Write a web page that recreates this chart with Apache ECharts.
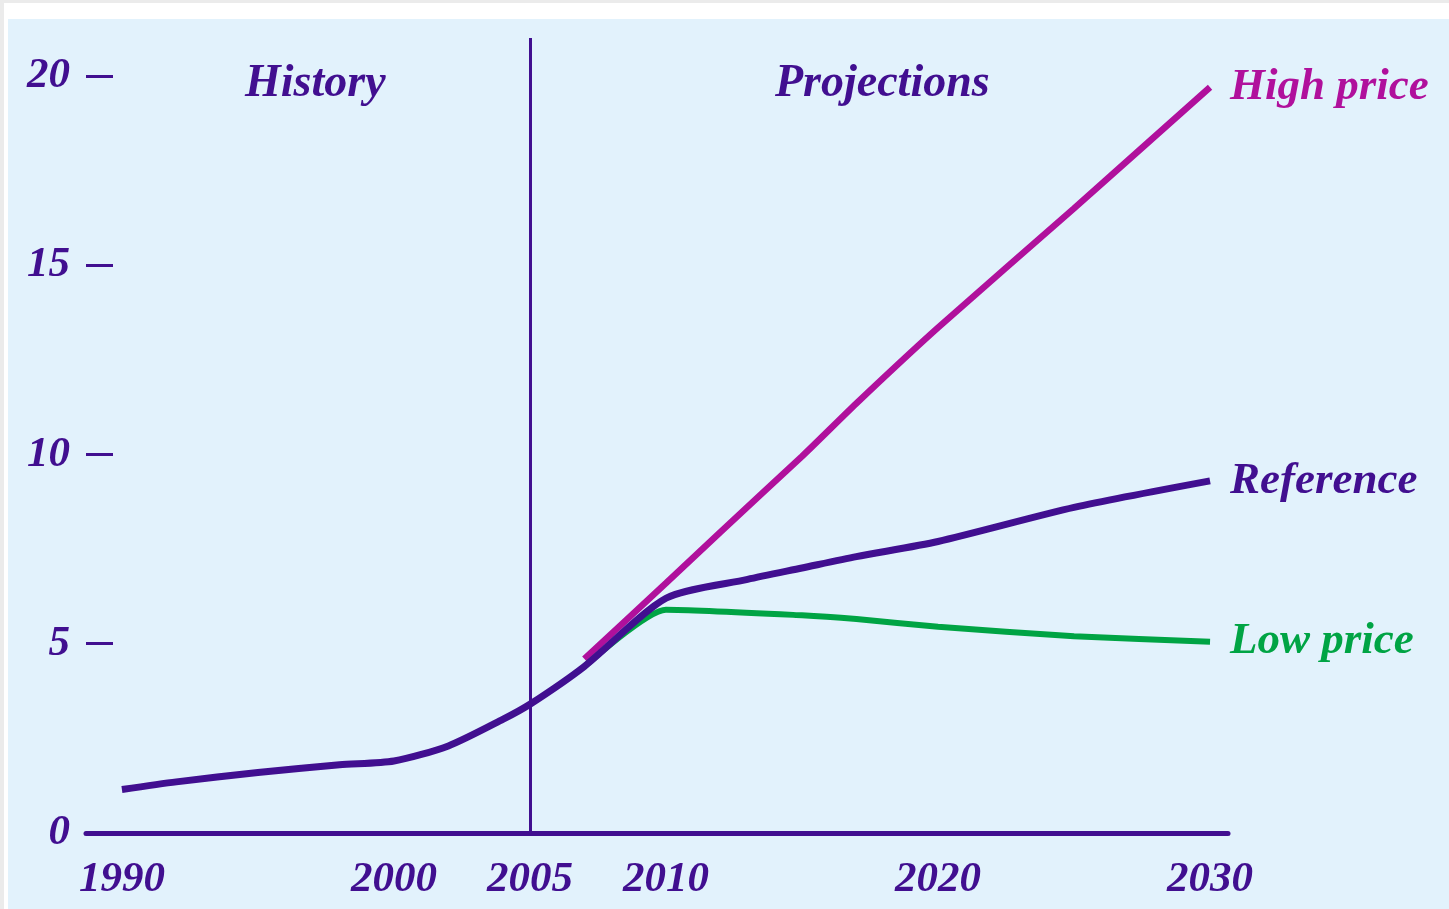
<!DOCTYPE html>
<html>
<head>
<meta charset="utf-8">
<script src="https://cdn.jsdelivr.net/npm/echarts@6/dist/echarts.min.js"></script>
<style>
html,body{margin:0;padding:0;background:#ffffff;}
#chart{width:1449px;height:909px;}
</style>
</head>
<body>
<div id="chart"></div>
<script>
// Data
var yearTicks = [1990, 2000, 2005, 2010, 2020, 2030];
var yTicks = [0, 5, 10, 15, 20];
var referenceYears = [1990, 1992, 1995, 1998, 2000, 2002, 2004, 2005, 2007, 2010, 2013, 2015, 2017, 2020, 2025, 2030];
var referenceValues = [1.15, 1.35, 1.6, 1.8, 1.9, 2.3, 3.0, 3.4, 4.4, 6.2, 6.7, 7.0, 7.3, 7.7, 8.6, 9.3];
var highYears = [2007, 2010, 2012, 2015, 2017, 2020, 2025, 2030];
var highValues = [4.6, 6.6, 7.95, 9.95, 11.35, 13.35, 16.5, 19.7];
var lowYears = [2007, 2010, 2015, 2017, 2020, 2025, 2030];
var lowValues = [4.4, 5.9, 5.75, 5.65, 5.45, 5.2, 5.05];
var seriesNames = ['High price', 'Low price', 'Reference'];
var periodLabels = ['History', 'Projections'];
var dividerYear = 2005;

var PURPLE = '#410f90';
var MAGENTA = '#b0109c';
var GREEN = '#00a444';
var FONT = 'Liberation Serif';

function pairs(xs, ys) { return xs.map(function (x, i) { return [x, ys[i]]; }); }

var chart = echarts.init(document.getElementById('chart'), null, {renderer: 'canvas'});

function endLabel(color) {
  return {
    show: true,
    formatter: '{a}',
    color: color,
    fontFamily: FONT,
    fontStyle: 'italic',
    fontWeight: 'bold',
    fontSize: 45,
    distance: 20
  };
}

var option = {
  animation: false,
  backgroundColor: '#ffffff',
  graphic: [
    {type: 'rect', shape: {x: 0, y: 0, width: 1449, height: 3}, style: {fill: '#ebebeb'}, z: -10},
    {type: 'rect', shape: {x: 0, y: 0, width: 4, height: 909}, style: {fill: '#ebebeb'}, z: -10},
    {type: 'rect', shape: {x: 8, y: 19, width: 1441, height: 890}, style: {fill: '#e2f2fc'}, z: -10},
    {type: 'text', left: 245, top: 61, z: 10,
     style: {text: periodLabels[0], fill: PURPLE, font: 'italic bold 46px "Liberation Serif"'}},
    {type: 'text', left: 775, top: 61, z: 10,
     style: {text: periodLabels[1], fill: PURPLE, font: 'italic bold 46px "Liberation Serif"'}}
  ],
  grid: {left: 86, right: 221, top: 38, bottom: 76, containLabel: false},
  xAxis: {
    type: 'value',
    min: 1988.68,
    max: 2030.66,
    splitLine: {show: false},
    axisLine: {show: true, lineStyle: {color: PURPLE, width: 5}},
    axisTick: {show: false},
    axisLabel: {
      customValues: yearTicks,
      formatter: function (v) { return String(v); },
      color: PURPLE,
      fontFamily: FONT,
      fontStyle: 'italic',
      fontWeight: 'bold',
      fontSize: 43,
      margin: 25
    }
  },
  yAxis: {
    type: 'value',
    min: 0,
    max: 21,
    interval: 5,
    splitLine: {show: false},
    axisLine: {show: false},
    axisTick: {show: true, inside: true, length: 27, customValues: yTicks, lineStyle: {color: PURPLE, width: 3}},
    axisLabel: {
      customValues: yTicks,
      color: PURPLE,
      fontFamily: FONT,
      fontStyle: 'italic',
      fontWeight: 'bold',
      fontSize: 43,
      margin: 16
    }
  },
  series: [
    {
      name: seriesNames[0], type: 'line', data: pairs(highYears, highValues),
      smooth: 0.2, showSymbol: false, symbol: 'none',
      lineStyle: {color: MAGENTA, width: 6.5}, itemStyle: {color: MAGENTA},
      endLabel: endLabel(MAGENTA), z: 3
    },
    {
      name: seriesNames[1], type: 'line', data: pairs(lowYears, lowValues),
      smooth: 0.2, showSymbol: false, symbol: 'none',
      lineStyle: {color: GREEN, width: 6}, itemStyle: {color: GREEN},
      endLabel: endLabel(GREEN), z: 4
    },
    {
      name: seriesNames[2], type: 'line', data: pairs(referenceYears, referenceValues),
      smooth: 0.25, showSymbol: false, symbol: 'none',
      lineStyle: {color: PURPLE, width: 7}, itemStyle: {color: PURPLE},
      endLabel: endLabel(PURPLE), z: 5,
      markLine: {
        silent: true, symbol: 'none', animation: false,
        label: {show: false},
        lineStyle: {color: PURPLE, width: 3, type: 'solid'},
        data: [{xAxis: dividerYear}]
      }
    }
  ]
};
chart.setOption(option);
</script>
</body>
</html>
